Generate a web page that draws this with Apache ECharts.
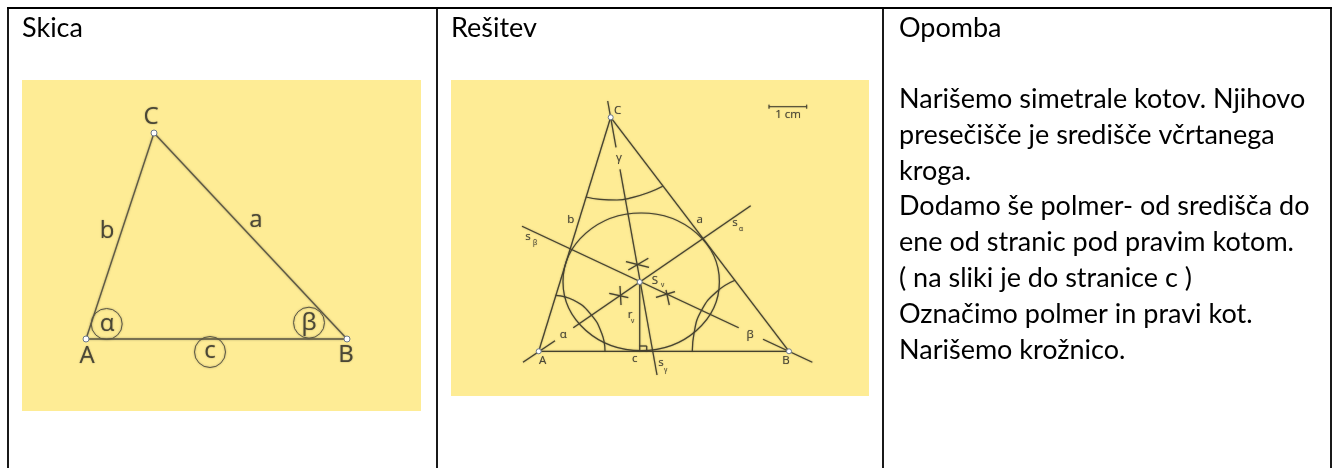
<!DOCTYPE html>
<html>
<head>
<meta charset="utf-8">
<style>
	html, body { margin: 0; padding: 0; background: #fff; }
	#main { width: 1341px; height: 468px; }
</style>
<script src="https://cdn.jsdelivr.net/npm/echarts@6/dist/echarts.min.js"></script>
</head>
<body>
<div id="main"></div>
<script>
	// table rules  [x1, y1, x2, y2]
	var tableRules = [
		[7, 8, 1332, 8],
		[8, 8, 8, 468],
		[437, 8, 437, 468],
		[883, 8, 883, 468],
		[1331, 8, 1331, 468]
	]
	// yellow panels  [x1, y1, x2, y2]
	var panels = [
		[22, 80, 421, 411],
		[451, 80, 869, 396]
	]
	// Skica
	var sketchEdges = [
		[86, 339, 154, 133],
		[154, 133, 347, 339],
		[86, 339, 347, 339]
	]
	var sketchPoints = [[86, 339], [154, 133], [347, 339]]
	var sketchRings = [[106.7, 324], [309, 322.7], [210, 352]]
	var sketchLabels = [
		[151, 117, 'C'], [107, 231, 'b'], [256, 220, 'a'], [87, 356, 'A'], [346, 355, 'B'],
		[107, 324, 'α'], [309, 323, 'β'], [210, 351, 'c']
	]
	// Rešitev
	var solutionLines = [
		[538.7, 351.3, 789, 351.3],
		[538.7, 351.3, 610.7, 117.3],
		[610.7, 117.3, 789, 351.3],
		[607.7, 101, 616, 147.3],
		[620, 169.3, 657, 375],
		[523, 362.3, 555, 340.7],
		[573.3, 327.7, 750.7, 205.7],
		[522, 226.3, 738.7, 327.7],
		[763, 339.3, 812.3, 362.3],
		[639.7, 282, 639.7, 351.3],
		[639.7, 346, 646.7, 346],
		[646.7, 346, 646.7, 351.3],
		[626, 261.7, 649, 267.3],
		[628.3, 270, 648.3, 258.3],
		[609.3, 293.3, 628.3, 297.7],
		[620, 286, 621, 305],
		[656, 297.3, 675, 291.7],
		[666, 290, 669.3, 305]
	]
	var scaleBar = [
		[769, 106.7, 806.7, 106.7],
		[769, 104.7, 769, 108.7],
		[806.7, 104.7, 806.7, 108.7]
	]
	var incircle = [[641.2, 281.8, 78.2, 68.8]]
	var gammaArc = [[586, 197], [600, 199.3], [617, 200], [633, 197.3], [650, 192], [662.7, 186.3]]
	var alphaArc = [[555.7, 295.3], [573.3, 300], [590, 313.3], [601.7, 333.3], [605, 351.3]]
	var betaArc = [[735, 280.3], [716.7, 291.7], [701.7, 310], [694, 333.3], [692.3, 351.3]]
	var solutionPoints = [[538.7, 351.3], [610.7, 117.3], [789, 351.3], [639.7, 282]]
	var solutionLabels = [
		[617.7, 111, 'C'], [542.7, 361, 'A'], [786, 361, 'B'], [699.7, 220, 'a'], [570.7, 220, 'b'],
		[634.7, 359, 'c'], [563.3, 334.3, 'α'], [750, 334.3, 'β'], [619, 158, 'γ'],
		[735, 223, 's'], [655, 280.3, 'S'], [528, 237, 's'], [661, 363, 's'], [630, 315, 'r'],
		[788, 114.3, '1 cm']
	]
	var subLabels = [
		[741, 229.5, 'α'], [662.5, 285, 'v'], [535, 243, 'β'], [665.7, 370, 'γ'], [632.7, 321, 'v']
	]
	// naslovi in besedilo
	var headers = [[22, 28, 'Skica'], [451, 28, 'Rešitev'], [899, 28, 'Opomba']]
	var noteLines = [
		'Narišemo simetrale kotov. Njihovo',
		'presečišče je središče včrtanega',
		'kroga.',
		'Dodamo še polmer- od središča do',
		'ene od stranic pod pravim kotom.',
		'( na sliki je do stranice c )',
		'Označimo polmer in pravi kot.',
		'Narišemo krožnico.'
	]
	var noteLineY = [99, 135, 171.5, 206, 242, 278, 314, 350]

	var inkColor = '#45422f'
	var labelColor = '#4a4736'
	var blurColor = 'rgba(70,66,48,0.55)'
	var noteFont = 'Lato, "Open Sans", sans-serif'
	var markFont = '"Open Sans", sans-serif'

	function segmentSeries(data, color, width, blur) {
		return {
			type: 'custom',
			silent: true,
			clip: false,
			data: data,
			renderItem: function (params, api) {
				var p1 = api.coord([api.value(0), api.value(1)])
				var p2 = api.coord([api.value(2), api.value(3)])
				return {
					type: 'line',
					shape: { x1: p1[0], y1: p1[1], x2: p2[0], y2: p2[1] },
					style: { stroke: color, lineWidth: width, fill: null, shadowBlur: blur, shadowColor: blurColor }
				}
			}
		}
	}
	function arcSeries(data) {
		return {
			type: 'line',
			silent: true,
			smooth: true,
			showSymbol: false,
			lineStyle: { color: inkColor, width: 1.2, shadowBlur: 1.5, shadowColor: blurColor },
			data: data
		}
	}
	function labelSeries(data, fontSize, color, align, family, blur) {
		return {
			type: 'scatter',
			silent: true,
			symbolSize: 0,
			itemStyle: { opacity: 1 },
			data: data,
			label: {
				show: true,
				position: 'inside',
				align: align,
				verticalAlign: 'middle',
				fontSize: fontSize,
				fontFamily: family,
				color: color,
				textShadowBlur: blur,
				textShadowColor: blurColor,
				formatter: function (params) { return params.value[2] }
			}
		}
	}
	function pointSeries(data, size) {
		return {
			type: 'scatter',
			silent: true,
			symbolSize: size,
			itemStyle: { color: '#fff', borderColor: '#6d7a8a', borderWidth: 1, opacity: 1 },
			data: data
		}
	}

	var myChart = echarts.init(document.getElementById('main'), null, { renderer: 'canvas' })
	myChart.setOption({
		animation: false,
		backgroundColor: '#fff',
		grid: { left: 0, right: 0, top: 0, bottom: 0 },
		xAxis: { type: 'value', min: 0, max: 1341, show: false },
		yAxis: { type: 'value', min: 0, max: 468, inverse: true, show: false },
		series: [
			// rumeni sliki
			{
				type: 'custom',
				silent: true,
				data: panels,
				renderItem: function (params, api) {
					var p1 = api.coord([api.value(0), api.value(1)])
					var p2 = api.coord([api.value(2), api.value(3)])
					return {
						type: 'rect',
						shape: { x: p1[0], y: p1[1], width: p2[0] - p1[0], height: p2[1] - p1[1] },
						style: { fill: '#feec95' }
					}
				}
			},
			segmentSeries(tableRules, '#000', 1.8, 0),
			segmentSeries(sketchEdges, '#5c5844', 1.3, 2),
			{
				type: 'scatter',
				silent: true,
				symbolSize: 31,
				itemStyle: { color: 'rgba(0,0,0,0)', borderColor: '#5c5844', borderWidth: 1, opacity: 1, shadowBlur: 2, shadowColor: blurColor },
				data: sketchRings
			},
			pointSeries(sketchPoints, 6),
			labelSeries(sketchLabels, 24, labelColor, 'center', markFont, 1.5),
			segmentSeries(solutionLines, inkColor, 1.2, 1.5),
			segmentSeries(scaleBar, inkColor, 1, 1),
			// vcrtani krog
			{
				type: 'custom',
				silent: true,
				clip: false,
				data: incircle,
				renderItem: function (params, api) {
					var c = api.coord([api.value(0), api.value(1)])
					return {
						type: 'ellipse',
						shape: { cx: c[0], cy: c[1], rx: api.value(2), ry: api.value(3) },
						style: { stroke: inkColor, lineWidth: 1.2, fill: null, shadowBlur: 1.5, shadowColor: blurColor }
					}
				}
			},
			arcSeries(gammaArc),
			arcSeries(alphaArc),
			arcSeries(betaArc),
			pointSeries(solutionPoints, 5),
			labelSeries(solutionLabels, 11.5, labelColor, 'center', markFont, 1),
			labelSeries(subLabels, 6.5, labelColor, 'center', markFont, 1),
			labelSeries(headers, 27, '#000', 'left', noteFont, 0),
			labelSeries(noteLines.map(function (line, i) { return [899, noteLineY[i], line] }), 27, '#000', 'left', noteFont, 0)
		]
	})
</script>
</body>
</html>
